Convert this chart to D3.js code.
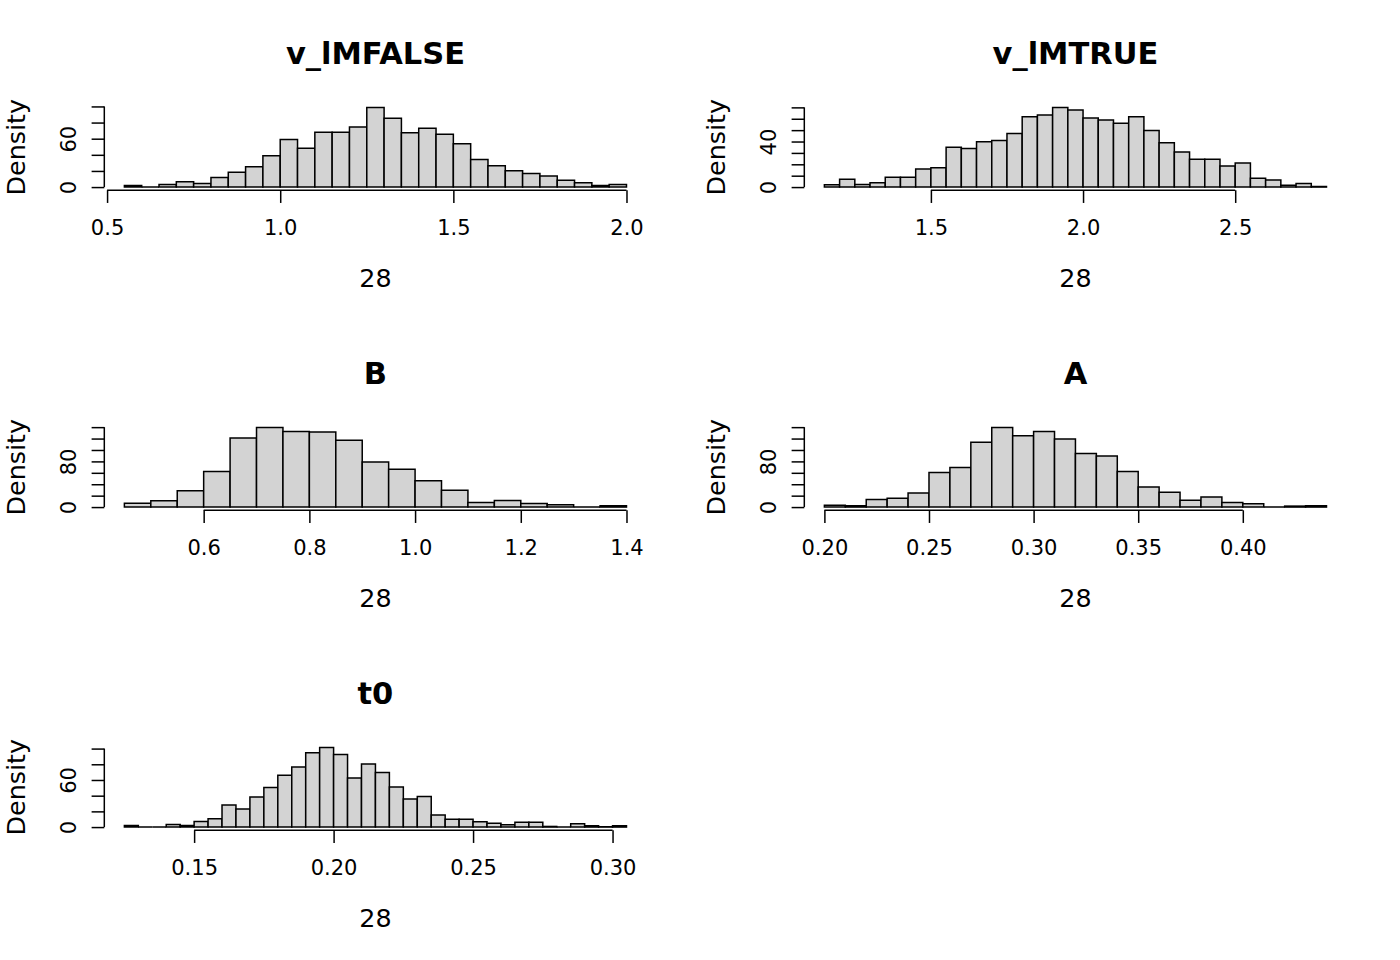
<!DOCTYPE html>
<html><head><meta charset="utf-8">
<script src="https://cdn.jsdelivr.net/npm/d3@7"></script>
<style>
body{margin:0;background:#fff}
svg{display:block}
text{font-family:"DejaVu Sans",sans-serif;fill:#000}
</style>
</head><body>
<svg id="chart" width="1400" height="960"></svg>
<script>
// ---- data ----
const titles = ["v_lMFALSE", "v_lMTRUE", "B", "A", "t0"];
const xLabel = "28";
const yLabel = "Density";

const vlmFalseBreaks = [0.55,0.6,0.65,0.7,0.75,0.8,0.85,0.9,0.95,1,1.05,1.1,1.15,1.2,1.25,1.3,1.35,1.4,1.45,1.5,1.55,1.6,1.65,1.7,1.75,1.8,1.85,1.9,1.95,2];
const vlmFalseDensity = [2.0,0,3.2,6.5,4.5,11.8,18.3,25.3,39,59,48,68,68,74.6,98.7,85.2,67.3,73,65.6,53.8,34.2,26.5,20.3,16.7,13.8,8.5,5.3,2.0,3.2];
const vlmFalseXTicks = [0.5,1.0,1.5,2.0];
const vlmFalseXTickLabels = ["0.5","1.0","1.5","2.0"];
const vlmFalseYTicks = [0,20,40,60,80,100];
const vlmFalseYTickLabels = ["0","","","60","",""];

const vlmTrueBreaks = [1.15,1.2,1.25,1.3,1.35,1.4,1.45,1.5,1.55,1.6,1.65,1.7,1.75,1.8,1.85,1.9,1.95,2,2.05,2.1,2.15,2.2,2.25,2.3,2.35,2.4,2.45,2.5,2.55,2.6,2.65,2.7,2.75,2.8];
const vlmTrueDensity = [2.0,6.9,2.3,3.7,8.7,8.7,15.9,17,35,33.8,39.9,41,47.1,61.8,63.3,69.9,67.6,60.7,59,56,61.8,49.7,39,30.9,24.5,24.5,18.5,21.1,7.8,6.3,1.7,3.1,0.5];
const vlmTrueXTicks = [1.5,2.0,2.5];
const vlmTrueXTickLabels = ["1.5","2.0","2.5"];
const vlmTrueYTicks = [0,10,20,30,40,50,60,70];
const vlmTrueYTickLabels = ["0","","","","40","","",""];

const bBreaks = [0.45,0.5,0.55,0.6,0.65,0.7,0.75,0.8,0.85,0.9,0.95,1,1.05,1.1,1.15,1.2,1.25,1.3,1.35,1.4];
const bDensity = [6.9,10.9,28.7,62.3,121,139.4,132.5,131.4,117,78.9,66.3,46,29.4,8,11.4,6.2,4,0,2.3];
const bXTicks = [0.6,0.8,1.0,1.2,1.4];
const bXTickLabels = ["0.6","0.8","1.0","1.2","1.4"];
const bYTicks = [0,20,40,60,80,100,120,140];
const bYTickLabels = ["0","","","","80","","",""];

const aBreaks = [0.2,0.21,0.22,0.23,0.24,0.25,0.26,0.27,0.28,0.29,0.3,0.31,0.32,0.33,0.34,0.35,0.36,0.37,0.38,0.39,0.4,0.41,0.42,0.43,0.44];
const aDensity = [3.4,2.3,13.2,15.5,24.7,60.5,69.2,113.5,139.4,125,132.5,119.4,94,89.3,62.3,35.1,26,12.1,17.8,8,5.7,0,1.7,2.3];
const aXTicks = [0.20,0.25,0.30,0.35,0.40];
const aXTickLabels = ["0.20","0.25","0.30","0.35","0.40"];
const aYTicks = [0,20,40,60,80,100,120,140];
const aYTickLabels = ["0","","","","80","","",""];

const t0Breaks = [0.125,0.13,0.135,0.14,0.145,0.15,0.155,0.16,0.165,0.17,0.175,0.18,0.185,0.19,0.195,0.2,0.205,0.21,0.215,0.22,0.225,0.23,0.235,0.24,0.245,0.25,0.255,0.26,0.265,0.27,0.275,0.28,0.285,0.29,0.295,0.3,0.305];
const t0Density = [2,0,0,3.3,2,7.1,10.5,28.2,23.1,38.3,50.5,66,76.5,94.7,101.4,92.6,62.6,80.3,69.4,50.9,35.7,39.1,15.5,10.1,10.1,6.7,5,2.9,6.3,6.3,0.8,0,4.2,1.7,0.4,1.7];
const t0XTicks = [0.15,0.20,0.25,0.30];
const t0XTickLabels = ["0.15","0.20","0.25","0.30"];
const t0YTicks = [0,20,40,60,80,100];
const t0YTickLabels = ["0","","","60","",""];

const panels = [
  {title: titles[0], breaks: vlmFalseBreaks, density: vlmFalseDensity, xTicks: vlmFalseXTicks, xTickLabels: vlmFalseXTickLabels, yTicks: vlmFalseYTicks, yTickLabels: vlmFalseYTickLabels},
  {title: titles[1], breaks: vlmTrueBreaks, density: vlmTrueDensity, xTicks: vlmTrueXTicks, xTickLabels: vlmTrueXTickLabels, yTicks: vlmTrueYTicks, yTickLabels: vlmTrueYTickLabels},
  {title: titles[2], breaks: bBreaks, density: bDensity, xTicks: bXTicks, xTickLabels: bXTickLabels, yTicks: bYTicks, yTickLabels: bYTickLabels},
  {title: titles[3], breaks: aBreaks, density: aDensity, xTicks: aXTicks, xTickLabels: aXTickLabels, yTicks: aYTicks, yTickLabels: aYTickLabels},
  {title: titles[4], breaks: t0Breaks, density: t0Density, xTicks: t0XTicks, xTickLabels: t0XTickLabels, yTicks: t0YTicks, yTickLabels: t0YTickLabels}
];

// ---- layout ----
const svg = d3.select("#chart");
svg.append("rect").attr("width",1400).attr("height",960).attr("fill","#fff");
const L = 25.44, figW = 700, figH = 320, tickLen = 12.7;
const FONT = '"DejaVu Sans",sans-serif';

panels.forEach((p, i) => {
  const col = i % 2, row = Math.floor(i / 2);
  const left = col * figW + 4.1 * L, right = (col + 1) * figW - 2.1 * L;
  const top = row * figH + 4.1 * L, bottom = (row + 1) * figH - 5.1 * L;
  const b0 = p.breaks[0], bN = p.breaks[p.breaks.length - 1], r = bN - b0;
  const x = d3.scaleLinear().domain([b0 - 0.04 * r, bN + 0.04 * r]).range([left, right]);
  const maxD = d3.max(p.density);
  const y = d3.scaleLinear().domain([-0.04 * maxD, 1.04 * maxD]).range([bottom, top]);
  const g = svg.append("g");

  // bars (paths, so zero-height bins still draw as a line)
  g.selectAll("path.bar").data(p.density).join("path")
    .attr("class","bar")
    .attr("d", (d, j) => {
      const x0 = x(p.breaks[j]), x1 = x(p.breaks[j + 1]), y0 = y(0), y1 = y(d);
      return `M${x0},${y0}L${x0},${y1}L${x1},${y1}L${x1},${y0}Z`;
    })
    .attr("fill", "#d3d3d3")
    .attr("stroke", "#000")
    .attr("stroke-width", 1.5)
    .attr("stroke-linejoin", "miter");

  // x axis
  const xa = g.append("g").attr("transform", `translate(0,${bottom})`)
    .call(d3.axisBottom(x).tickValues(p.xTicks).tickSize(tickLen).tickSizeOuter(0)
      .tickFormat((d, k) => p.xTickLabels[k]));
  xa.select(".domain").remove();
  xa.append("line").attr("x1", x(p.xTicks[0])).attr("x2", x(p.xTicks[p.xTicks.length - 1]))
    .attr("stroke", "#000").attr("stroke-width", 1.5);
  xa.selectAll(".tick line").attr("stroke", "#000").attr("stroke-width", 1.5);
  xa.selectAll(".tick text").attr("y", 45).attr("dy", null)
    .style("font-size", "21px").style("font-family", FONT).attr("fill", "#000");

  // y axis
  const ya = g.append("g").attr("transform", `translate(${left},0)`)
    .call(d3.axisLeft(y).tickValues(p.yTicks).tickSize(tickLen).tickSizeOuter(0)
      .tickFormat((d, k) => p.yTickLabels[k]));
  ya.select(".domain").remove();
  ya.append("line").attr("y1", y(p.yTicks[0])).attr("y2", y(p.yTicks[p.yTicks.length - 1]))
    .attr("stroke", "#000").attr("stroke-width", 1.5);
  ya.selectAll(".tick line").attr("stroke", "#000").attr("stroke-width", 1.5);
  ya.selectAll(".tick text").attr("x", null).attr("dy", null)
    .attr("transform", "translate(-28,0) rotate(-90)")
    .attr("text-anchor", "middle")
    .style("font-size", "21px").style("font-family", FONT).attr("fill", "#000");

  // title
  g.append("text").attr("x", (left + right) / 2).attr("y", top - 40)
    .attr("text-anchor", "middle").style("font-size", "30.5px").style("font-weight", "bold")
    .text(p.title);
  // x label
  g.append("text").attr("x", (left + right) / 2).attr("y", bottom + 97)
    .attr("text-anchor", "middle").style("font-size", "25.4px").text(xLabel);
  // y label
  g.append("text").attr("transform", `translate(${left - 79},${(top + bottom) / 2}) rotate(-90)`)
    .attr("text-anchor", "middle").style("font-size", "25.4px").text(yLabel);
});
</script>
</body></html>
